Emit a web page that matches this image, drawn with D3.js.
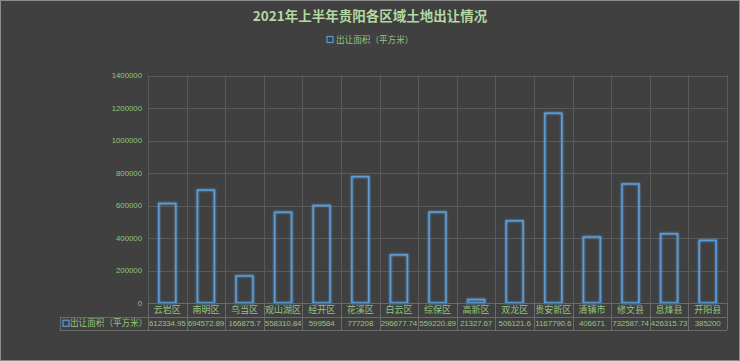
<!DOCTYPE html>
<html>
<head>
<meta charset="utf-8">
<script src="https://cdn.jsdelivr.net/npm/d3@7"></script>
<style>
  html, body { margin: 0; padding: 0; background: #404040; }
  svg { display: block; font-family: "Noto Sans CJK SC", "Noto Sans", sans-serif; }
</style>
</head>
<body>
<svg id="chart" width="740" height="361"></svg>
<script>
const categories = ['云岩区', '南明区', '乌当区', '观山湖区', '经开区', '花溪区', '白云区', '综保区',
  '高新区', '双龙区', '贵安新区', '清镇市', '修文县', '息烽县', '开阳县'];
const values = [612334.95, 694572.89, 166875.7, 558310.84, 599584, 777208, 296677.74, 559220.89,
  21327.67, 506121.6, 1167790.6, 406671, 732587.74, 426315.73, 385200];
const valueLabels = ['612334.95', '694572.89', '166875.7', '558310.84', '599584', '777208', '296677.74',
  '559220.89', '21327.67', '506121.6', '1167790.6', '406671', '732587.74', '426315.73', '385200'];
const yTicks = [0, 200000, 400000, 600000, 800000, 1000000, 1200000, 1400000];
const seriesName = '出让面积（平方米）';
const title = '2021年上半年贵阳各区域土地出让情况';

const W = 740, H = 361;
const plot = { left: 148, right: 727, top: 75.5, bottom: 303 };
const rowH = 13.5;
const tableLeft = 60;

const labelColor = '#93c47d';
const gridColor = '#5a5a5a';
const tableLine = '#6b6b6b';
const barColor = '#5b9bd5';

const svg = d3.select('#chart');

svg.append('rect')
  .attr('x', 0.5).attr('y', 0.5).attr('width', W - 1).attr('height', H - 1)
  .attr('fill', '#404040').attr('stroke', '#8c8c8c');

const defs = svg.append('defs');
const glow = defs.append('filter').attr('id', 'glow')
  .attr('x', '-50%').attr('y', '-10%').attr('width', '200%').attr('height', '120%');
glow.append('feGaussianBlur').attr('in', 'SourceGraphic').attr('stdDeviation', 1.2).attr('result', 'b');
const merge = glow.append('feMerge');
merge.append('feMergeNode').attr('in', 'b');
merge.append('feMergeNode').attr('in', 'SourceGraphic');

const x = d3.scaleBand().domain(categories).range([plot.left, plot.right]).padding(0);
const y = d3.scaleLinear().domain([0, 1400000]).range([plot.bottom, plot.top]);

// horizontal grid
svg.append('g').selectAll('line').data(yTicks.filter(d => d > 0)).join('line')
  .attr('x1', plot.left).attr('x2', plot.right)
  .attr('y1', d => Math.round(y(d)) + 0.5).attr('y2', d => Math.round(y(d)) + 0.5)
  .attr('stroke', gridColor).attr('stroke-width', 1);

// vertical grid at category boundaries
const bounds = categories.map(c => x(c)).concat([plot.right]);
svg.append('g').selectAll('line').data(bounds).join('line')
  .attr('x1', d => Math.round(d) + 0.5).attr('x2', d => Math.round(d) + 0.5)
  .attr('y1', plot.top).attr('y2', plot.bottom)
  .attr('stroke', gridColor).attr('stroke-width', 1);

// y axis labels
svg.append('g').selectAll('text').data(yTicks).join('text')
  .attr('x', plot.left - 6).attr('y', d => y(d)).attr('dy', '0.35em')
  .attr('text-anchor', 'end').attr('font-size', 7.8).attr('fill', labelColor)
  .attr('font-family', '"Liberation Sans", sans-serif')
  .text(d => d);

// bars
const barW = x.bandwidth() * 0.44;
svg.append('g').attr('filter', 'url(#glow)').selectAll('rect').data(values).join('rect')
  .attr('x', (d, i) => x(categories[i]) + (x.bandwidth() - barW) / 2)
  .attr('y', d => y(d))
  .attr('width', barW)
  .attr('height', d => plot.bottom - y(d))
  .attr('fill', 'none').attr('stroke', barColor).attr('stroke-width', 1.6);

// data table
const t = svg.append('g');
const r1 = plot.bottom, r2 = plot.bottom + rowH, r3 = plot.bottom + 2 * rowH;
const hl = [[plot.left, r1], [tableLeft, r2], [tableLeft, r3]];
t.selectAll('line.h').data(hl).join('line').attr('class', 'h')
  .attr('x1', d => d[0]).attr('x2', plot.right)
  .attr('y1', d => Math.round(d[1]) + 0.5).attr('y2', d => Math.round(d[1]) + 0.5)
  .attr('stroke', tableLine);
t.selectAll('line.v').data(bounds).join('line').attr('class', 'v')
  .attr('x1', d => Math.round(d) + 0.5).attr('x2', d => Math.round(d) + 0.5)
  .attr('y1', r1).attr('y2', r3).attr('stroke', tableLine);
t.append('line')
  .attr('x1', tableLeft + 0.5).attr('x2', tableLeft + 0.5)
  .attr('y1', r2).attr('y2', r3).attr('stroke', tableLine);

t.selectAll('text.cat').data(categories).join('text').attr('class', 'cat')
  .attr('x', d => x(d) + x.bandwidth() / 2).attr('y', (r1 + r2) / 2).attr('dy', '0.35em')
  .attr('text-anchor', 'middle').attr('font-size', 9).attr('fill', labelColor)
  .text(d => d);
t.selectAll('text.val').data(valueLabels).join('text').attr('class', 'val')
  .attr('x', (d, i) => x(categories[i]) + x.bandwidth() / 2).attr('y', (r2 + r3) / 2).attr('dy', '0.35em')
  .attr('text-anchor', 'middle').attr('font-size', 8).attr('fill', labelColor)
  .attr('font-family', '"Liberation Sans Narrow", "Liberation Sans", sans-serif')
  .attr('letter-spacing', -0.15)
  .text(d => d);
t.append('rect')
  .attr('x', tableLeft + 3).attr('y', (r2 + r3) / 2 - 3).attr('width', 6).attr('height', 6)
  .attr('fill', 'none').attr('stroke', barColor).attr('stroke-width', 1.2);
t.append('text')
  .attr('x', tableLeft + 10).attr('y', (r2 + r3) / 2).attr('dy', '0.35em')
  .attr('font-size', 8.6).attr('fill', labelColor)
  .text(seriesName);

// title
svg.append('text')
  .attr('x', W / 2).attr('y', 16).attr('dy', '0.35em')
  .attr('text-anchor', 'middle').attr('font-size', 13.5).attr('font-weight', 'bold')
  .attr('fill', '#b4d9a0')
  .text(title);

// legend
const lg = svg.append('g').attr('transform', 'translate(327,39.5)');
lg.append('rect').attr('x', 0).attr('y', -3).attr('width', 6).attr('height', 6)
  .attr('fill', 'none').attr('stroke', barColor).attr('stroke-width', 1.2);
lg.append('text').attr('x', 9).attr('dy', '0.35em')
  .attr('font-size', 8.6).attr('fill', labelColor)
  .text(seriesName);
</script>
</body>
</html>
